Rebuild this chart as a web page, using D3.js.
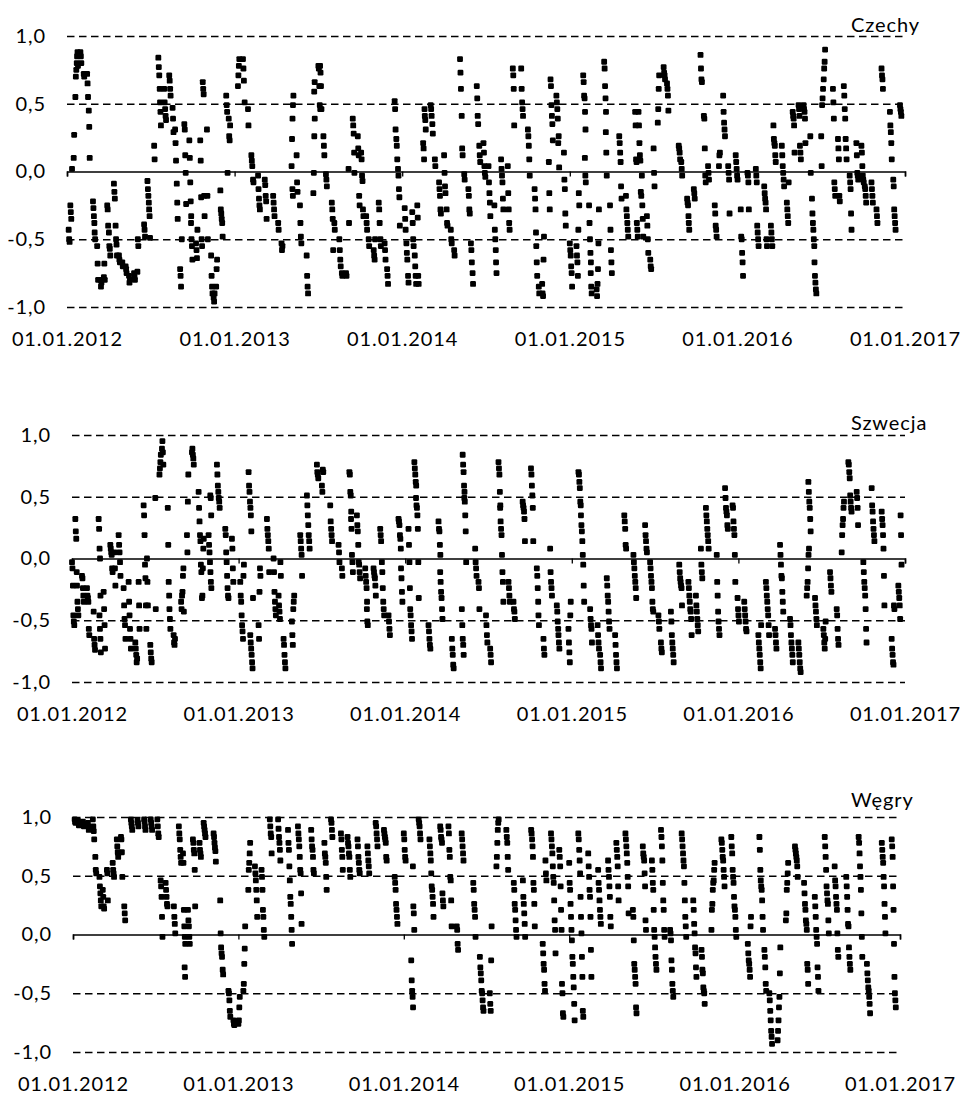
<!DOCTYPE html>
<html>
<head>
<meta charset="utf-8">
<script src="https://cdn.jsdelivr.net/npm/d3@7"></script>
<style>
  body { margin: 0; background: #fff; }
  text { font-family: Lato, "Open Sans", sans-serif; fill: #000; }
</style>
</head>
<body>
<script>
// Each group: [start (fractional year), values on consecutive days]
var czechy = [
  [2012.01, [-0.43,-0.50,-0.52]], [2012.02, [-0.25,-0.30,-0.35]], [2012.03, [0.02]],
  [2012.04, [0.10,0.27]], [2012.05, [0.55,0.70,0.75,0.80]], [2012.06, [0.85,0.88,0.78]],
  [2012.08, [0.88,0.85,0.80]], [2012.10, [0.72,0.70]], [2012.12, [0.72,0.65,0.55]],
  [2012.13, [0.45,0.33,0.10]], [2012.155, [-0.22,-0.27,-0.33,-0.38]], [2012.165, [-0.45,-0.50]],
  [2012.18, [-0.55,-0.68,-0.80]], [2012.20, [-0.80,-0.85,-0.82]], [2012.22, [-0.78,-0.68,-0.80]],
  [2012.24, [-0.25,-0.28,-0.40]], [2012.25, [-0.45,-0.55,-0.57,-0.62]], [2012.28, [-0.09,-0.15,-0.20]],
  [2012.29, [-0.40,-0.50,-0.54,-0.62]], [2012.31, [-0.62,-0.65,-0.67]], [2012.33, [-0.67,-0.70]],
  [2012.35, [-0.70,-0.72,-0.75]], [2012.37, [-0.77,-0.82,-0.80]], [2012.40, [-0.75,-0.78,-0.80]],
  [2012.42, [-0.74,-0.50,-0.55]], [2012.46, [-0.39,-0.43,-0.48]], [2012.48, [-0.07,-0.13,-0.18,-0.23]],
  [2012.49, [-0.28,-0.33,-0.49]], [2012.52, [0.19,0.09]], [2012.545, [0.84,0.77,0.71,0.61]],
  [2012.555, [0.51,0.44,0.34]], [2012.58, [0.61,0.51,0.46,0.41,0.38]], [2012.61, [0.71,0.67,0.61,0.56]],
  [2012.63, [0.47,0.39,0.29]], [2012.645, [0.31,0.21,0.08]], [2012.655, [-0.09,-0.23,-0.35]],
  [2012.675, [-0.72,-0.77,-0.85]], [2012.685, [-0.50]], [2012.70, [0.35,0.31,0.12,-0.01,-0.24]],
  [2012.73, [0.23,0.10,-0.08,-0.22,-0.33]], [2012.74, [-0.38,-0.50,-0.55,-0.65]],
  [2012.77, [-0.53,-0.58,-0.64,-0.43]], [2012.795, [0.23,0.08,-0.19,-0.50,-0.55]],
  [2012.81, [0.66,0.61,0.57,-0.18,-0.33]], [2012.835, [0.31,-0.18,-0.50]],
  [2012.86, [-0.62,-0.77,-0.85,-0.90]], [2012.875, [-0.93,-0.96,-0.90]], [2012.89, [-0.85,-0.72,-0.65]],
  [2012.915, [-0.14,-0.28,-0.31,-0.35,-0.38,-0.48]], [2012.95, [0.56,0.49,0.44,-0.01]],
  [2012.965, [0.39,0.26,0.23,0.34]], [2013.02, [0.63,0.71,0.78,0.83]], [2013.05, [0.83,0.76,0.67]],
  [2013.06, [0.51]], [2013.08, [0.46,0.34]], [2013.10, [0.12,0.08,0.04]], [2013.11, [-0.06,-0.08]],
  [2013.14, [-0.03,-0.13,-0.20,-0.25,-0.28]], [2013.18, [-0.06,-0.10,-0.18,-0.22,-0.35]],
  [2013.23, [-0.18,-0.23,-0.28,-0.33]], [2013.26, [-0.38,-0.43]], [2013.28, [-0.53,-0.58,-0.55]],
  [2013.34, [0.04,0.24,0.39,0.49,0.56]], [2013.345, [-0.13,-0.18]], [2013.37, [0.12,-0.08,-0.15]],
  [2013.39, [-0.25,-0.38,-0.48,-0.53]], [2013.43, [-0.62,-0.77,-0.85,-0.90]],
  [2013.47, [-0.16,-0.01,0.26,0.39]], [2013.475, [0.59,0.66]], [2013.50, [0.78,0.76,0.63,0.49,0.46]],
  [2013.51, [0.78,0.73,0.63,0.46]], [2013.53, [0.26,0.19,0.12]], [2013.545, [-0.02,-0.06,-0.11]],
  [2013.58, [-0.23,-0.28,-0.35,-0.58]], [2013.595, [-0.38,-0.43]], [2013.625, [-0.50,-0.58,-0.65,-0.70]],
  [2013.64, [-0.75,-0.77]], [2013.665, [-0.75,-0.77]], [2013.68, [0.02,-0.38]],
  [2013.705, [0.39,0.34,0.28,0.14]], [2013.715, [-0.01]], [2013.735, [0.26,0.17,0.12,-0.18,-0.25]],
  [2013.755, [0.14,0.09,-0.03,-0.07,-0.28,-0.33]], [2013.785, [-0.33,-0.38,-0.43]],
  [2013.80, [-0.50,-0.55]], [2013.83, [-0.58,-0.62,-0.65,-0.50]], [2013.86, [-0.23,-0.28,-0.38]],
  [2013.87, [-0.50,-0.55]], [2013.895, [-0.53,-0.58,-0.65]], [2013.91, [-0.72,-0.77,-0.83]],
  [2013.955, [0.52,0.46,0.31]], [2013.965, [0.24,0.19,0.09]], [2013.975, [0.02,-0.03,-0.13,-0.19,-0.40]],
  [2014.015, [-0.27,-0.35,-0.43]], [2014.025, [-0.53,-0.60,-0.65]], [2014.035, [-0.77,-0.82]],
  [2014.06, [-0.30,-0.38,-0.50,-0.55]], [2014.075, [-0.62,-0.70,-0.77,-0.83]],
  [2014.09, [-0.25,-0.34,-0.77,-0.83]], [2014.125, [0.21,0.17,0.09,0.46]], [2014.135, [0.41,0.38,0.31]],
  [2014.17, [0.49,0.46,0.41]], [2014.18, [0.35,0.28]], [2014.195, [0.09,0.04]],
  [2014.22, [-0.08,-0.13,-0.18,-0.28,-0.31]], [2014.25, [0.12,-0.01,-0.11,-0.16]],
  [2014.265, [-0.28,-0.38,-0.40]], [2014.29, [-0.43,-0.50,-0.53]], [2014.31, [-0.58,-0.62]],
  [2014.345, [0.83,0.73,0.61]], [2014.355, [0.41,0.17,0.12]], [2014.37, [-0.02,-0.06]],
  [2014.395, [-0.13,-0.18,-0.28,-0.31]], [2014.41, [-0.53,-0.58,-0.67]], [2014.42, [-0.75,-0.83]],
  [2014.445, [0.63,0.54,0.41,0.35]], [2014.46, [0.19,0.12,0.07]], [2014.485, [0.21,0.14,0.04,-0.01,-0.04]],
  [2014.515, [0.04,-0.08,-0.16,-0.23,-0.33]], [2014.55, [-0.25,-0.43,-0.50,-0.58]], [2014.56, [-0.67,-0.75]],
  [2014.59, [0.09,0.02,-0.03,-0.08,-0.20,-0.28]], [2014.63, [0.04,-0.16,-0.28,-0.38,-0.43]],
  [2014.66, [0.76,0.71,0.61,0.34]], [2014.71, [0.76,0.61,0.51,0.46,0.41]],
  [2014.75, [0.31,0.26,0.19,0.09,-0.03]], [2014.79, [-0.13,-0.20,-0.28,-0.45]],
  [2014.80, [-0.55,-0.67,-0.77]], [2014.815, [-0.85,-0.90]], [2014.835, [-0.83,-0.90,-0.92,-0.65,-0.48]],
  [2014.875, [0.07,-0.16,-0.28]], [2014.885, [0.68,0.63,0.49,0.41,0.35,0.23]],
  [2014.92, [0.56,0.51,0.46,0.39,0.21,0.26,0.03]], [2014.965, [0.14,-0.06,-0.13,-0.31,-0.40]],
  [2015.0, [-0.53,-0.58,-0.62,-0.70,-0.75,-0.85]], [2015.04, [-0.55,-0.62,-0.67,-0.77,-0.43,-0.16,-0.25]],
  [2015.08, [0.71,0.66,0.56,0.54,0.44,0.31]], [2015.09, [0.10,-0.03,-0.08]],
  [2015.115, [-0.25,-0.38,-0.50,-0.60,-0.67]], [2015.125, [-0.75,-0.85,-0.90]],
  [2015.16, [-0.87,-0.92,-0.83,-0.72,-0.53,-0.28]], [2015.205, [0.81,0.76,0.63,0.54,0.44]],
  [2015.215, [0.29,0.14,-0.03]], [2015.24, [-0.25,-0.43,-0.58,-0.67,-0.75]],
  [2015.295, [0.26,0.21,0.14,0.07,-0.11,-0.20]], [2015.335, [-0.18,-0.28,-0.33,-0.38,-0.43,-0.48]],
  [2015.39, [0.44,0.34,0.09,0.07]], [2015.40, [-0.38,-0.43,-0.48]],
  [2015.41, [0.44,0.34,0.21,0.12,0.08,-0.15,-0.18]], [2015.43, [-0.03,-0.25,-0.35,-0.48]],
  [2015.46, [-0.33,-0.40,-0.50,-0.60]], [2015.48, [-0.65,-0.70,-0.72]], [2015.50, [0.17,-0.01,-0.11]],
  [2015.525, [0.36,0.46,0.61,0.71]], [2015.56, [0.77,0.73,0.71,0.68]], [2015.58, [0.65,0.61,0.56,0.45]],
  [2015.65, [0.19,0.17,0.14,0.09]], [2015.665, [0.07,0.02,-0.03]], [2015.70, [-0.20,-0.23,-0.25,-0.33]],
  [2015.71, [-0.38,-0.43]], [2015.74, [-0.13,-0.16,-0.20]], [2015.78, [0.86,0.76,0.68,0.66]],
  [2015.80, [0.41,0.39,0.17,-0.03,-0.08]], [2015.825, [0.04,-0.01,-0.06]],
  [2015.865, [-0.25,-0.31,-0.40,-0.43,-0.48]], [2015.89, [0.04,0.12,0.14]],
  [2015.915, [0.56,0.44,0.36,0.31,0.26]], [2015.945, [0.04,-0.01,-0.06,-0.31]],
  [2015.99, [0.12,0.07,0.02,-0.03,-0.06]], [2016.02, [-0.28,-0.48,-0.50,-0.60,-0.67,-0.77]],
  [2016.06, [-0.01,-0.03,-0.08,-0.28]], [2016.11, [0.02,-0.03,-0.08,-0.40,-0.45,-0.50,-0.55]],
  [2016.16, [-0.11,-0.16,-0.20,-0.23,-0.28,-0.50,-0.55]], [2016.20, [-0.40,-0.45,-0.50,-0.55]],
  [2016.215, [0.34,0.24,0.21,0.19,0.12,0.07]], [2016.265, [0.19,0.12,0.04,-0.01,-0.06,-0.11]],
  [2016.295, [-0.23,-0.28,-0.33,-0.38,-0.08]], [2016.33, [0.44,0.41,0.39,0.34,0.14]],
  [2016.365, [0.49,0.46,0.41,0.19,0.14,0.09]], [2016.395, [0.49,0.46,0.44,0.39,0.21]],
  [2016.435, [0.26,-0.01]], [2016.445, [-0.20,-0.31,-0.38,-0.43,-0.50,-0.55]],
  [2016.46, [-0.67,-0.77,-0.82,-0.87,-0.90]], [2016.50, [0.26,0.04,0.49,0.54,0.61]],
  [2016.515, [0.68,0.76,0.81,0.90]], [2016.57, [0.61,0.51,0.39,-0.08,-0.13,-0.18]],
  [2016.60, [0.24,0.17,0.09,-0.18,-0.22]], [2016.635, [0.63,0.56,0.46,0.39,0.24,0.17,0.09]],
  [2016.67, [-0.03,-0.08,-0.13,-0.31,-0.43]], [2016.71, [0.21,0.12,-0.01,-0.03,-0.06]],
  [2016.74, [0.19,0.14,0.04,-0.03,-0.06,-0.08]], [2016.76, [-0.11,-0.13,-0.18,-0.23]],
  [2016.80, [-0.08,-0.13,-0.18,-0.23]], [2016.83, [-0.28,-0.33,-0.38]],
  [2016.86, [0.76,0.71,0.68,0.61]], [2016.91, [0.44,0.34,0.29,0.21,0.09]],
  [2016.93, [-0.06,-0.11,-0.28,-0.33,-0.38,-0.43]], [2016.97, [0.49,0.46,0.44,0.41]]
];

var szwecja = [
  [2012.00, [-0.03,-0.08,-0.22,-0.46,-0.51,-0.54]], [2012.02, [0.32,0.22,0.16,-0.11]],
  [2012.03, [-0.22,-0.35,-0.41,-0.46]], [2012.06, [-0.14,-0.16,-0.24,-0.30,-0.35]],
  [2012.09, [-0.24,-0.30,-0.32,-0.35,-0.57,-0.62]], [2012.13, [-0.43,-0.65,-0.70,-0.74]],
  [2012.16, [0.32,0.24,0.08,0.0,-0.30]], [2012.165, [-0.46,-0.57,-0.65,-0.76]],
  [2012.19, [-0.27,-0.41,-0.54,-0.73]], [2012.23, [0.11,0.08,0.05,0.03,-0.08,-0.11]],
  [2012.255, [0.05,-0.08,-0.22]], [2012.28, [0.19,0.11,0.05,-0.03,-0.14]],
  [2012.31, [-0.24,-0.38,-0.49,-0.54,-0.65]], [2012.34, [-0.19,-0.35,-0.46,-0.57,-0.65,-0.73]],
  [2012.38, [-0.68,-0.73,-0.78,-0.84,-0.81]], [2012.40, [-0.19,-0.38,-0.57]],
  [2012.43, [0.43,0.35,0.19,-0.05,-0.16,-0.38,-0.57]], [2012.45, [0.0,-0.19,-0.38]],
  [2012.47, [-0.70,-0.76,-0.81,-0.84]], [2012.50, [0.49,-0.41]], [2012.525, [0.68,0.73,0.78,0.84]],
  [2012.54, [0.89,0.95,0.86,0.76]], [2012.575, [0.41,0.11,-0.19,-0.30]], [2012.585, [-0.41,-0.49,-0.57]],
  [2012.61, [-0.62,-0.68,-0.70,-0.65]], [2012.655, [-0.35,-0.41,-0.30,-0.27,-0.14,-0.08,-0.43]],
  [2012.69, [0.19,0.05,0.46,0.68]], [2012.72, [0.86,0.89,0.84,0.81,0.76]],
  [2012.76, [0.54,0.41,0.30,0.19,0.14,-0.05,-0.11]], [2012.78, [-0.32,-0.30,-0.08,0.08,0.16]],
  [2012.82, [0.19,0.11,0.05,-0.03,-0.11,-0.19,-0.24]], [2012.83, [0.51,0.49,0.35]],
  [2012.87, [0.76,0.68,0.59,0.54,0.49,0.46,0.41]], [2012.92, [0.24,0.19,0.05,-0.03,-0.14,-0.24,-0.30,-0.32]],
  [2012.96, [0.16,0.08,-0.08,-0.19]], [2013.01, [-0.19,-0.30,-0.35,-0.46,-0.54,-0.59,-0.65,-0.14,-0.05]],
  [2013.06, [0.70,0.59,0.54,0.46,0.41,0.35,0.22]], [2013.07, [-0.62,-0.68,-0.73,-0.78,-0.84,-0.89,-0.32]],
  [2013.12, [-0.54,-0.65,-0.27,-0.08,-0.14]], [2013.17, [0.32,0.24,0.19,0.14,0.08,-0.11]],
  [2013.21, [0.0,-0.11,-0.27,-0.35,-0.41,-0.46]], [2013.24, [-0.30,-0.38,-0.43,-0.49,-0.03,-0.14]],
  [2013.27, [-0.65,-0.70,-0.78,-0.84,-0.89]], [2013.32, [-0.51,-0.62,-0.70,-0.41,-0.35,-0.30]],
  [2013.37, [0.19,0.14,0.08,0.03,-0.14]], [2013.41, [0.51,0.43,0.35,0.27,0.19,0.14,0.08]],
  [2013.47, [0.76,0.70,0.68,0.65]], [2013.50, [0.59,0.54,0.72,0.70]], [2013.55, [0.43,0.30,0.24,0.19,0.14]],
  [2013.60, [0.11,0.05,-0.03]], [2013.62, [-0.08,-0.14]], [2013.665, [0.70,0.68,0.54,0.51,0.38]],
  [2013.675, [0.32,0.24,0.03,-0.03,-0.11]], [2013.71, [0.35,0.27,0.22,0.11,-0.03,-0.05,-0.11,-0.16]],
  [2013.76, [-0.08,-0.14,-0.19,-0.24,-0.35]], [2013.77, [-0.41,-0.51,-0.54]],
  [2013.81, [-0.08,-0.11,-0.14,-0.16,-0.22,-0.30]], [2013.85, [0.24,0.19,0.14]],
  [2013.86, [-0.03,-0.11,-0.24,-0.35,-0.41,-0.46]], [2013.90, [-0.46,-0.51,-0.57,-0.62]],
  [2013.96, [0.32,0.30,0.27,0.19,0.16,0.08]], [2013.975, [-0.08,-0.16,-0.27,-0.35]],
  [2014.02, [0.24,0.11,-0.03,-0.24]], [2014.03, [-0.41,-0.46,-0.54,-0.59,-0.65]],
  [2014.055, [0.78,0.73,0.68,0.62,0.59]], [2014.065, [0.49,0.43,0.41,0.35,0.24,-0.03,-0.32]],
  [2014.14, [-0.54,-0.59,-0.65,-0.70,-0.73]], [2014.20, [0.30,0.24,0.22,0.11,0.03]],
  [2014.21, [-0.11,-0.19,-0.27,-0.32,-0.41,-0.49]], [2014.28, [-0.65,-0.73,-0.78,-0.86,-0.89]],
  [2014.34, [-0.41,-0.54,-0.65,-0.70,-0.78]], [2014.345, [0.84,0.76,0.70,0.59,0.54]],
  [2014.355, [0.49,0.46,0.35,0.22,-0.03]], [2014.42, [0.08,-0.03,-0.08,-0.14]],
  [2014.44, [-0.19,-0.24,-0.41]], [2014.485, [-0.46,-0.54,-0.62,-0.68]], [2014.51, [-0.73,-0.78,-0.84]],
  [2014.56, [0.78,0.73,0.68,0.54,0.43]], [2014.57, [0.41,0.30,0.24,0.19,0.03,-0.11,-0.19,-0.35]],
  [2014.62, [-0.19,-0.24,-0.30,-0.35]], [2014.65, [-0.35,-0.41,-0.43,-0.49]],
  [2014.705, [0.46,0.43,0.41,0.38,0.32,0.14]], [2014.755, [0.73,0.68,0.59,0.51,0.41,0.14]],
  [2014.79, [-0.08,-0.14,-0.24,-0.35]], [2014.80, [-0.46,-0.54]], [2014.83, [-0.65,-0.73,-0.78]],
  [2014.87, [0.08,-0.11,-0.19,-0.24,-0.30]], [2014.91, [-0.38,-0.43,-0.51,-0.57]],
  [2014.92, [-0.62,-0.68,-0.73]], [2014.98, [-0.57,-0.68,-0.76,-0.84,-0.46,-0.35]],
  [2015.04, [0.70,0.68,0.62,0.57,0.46,0.43]], [2015.055, [0.35,0.27,0.22,0.14,0.03,-0.05,-0.22,-0.35]],
  [2015.11, [-0.41,-0.49,-0.54,-0.57,-0.68]], [2015.155, [-0.54,-0.62,-0.68,-0.73]],
  [2015.17, [-0.78,-0.84,-0.89]], [2015.21, [-0.16,-0.22,-0.30,-0.35,-0.43,-0.51,-0.57]],
  [2015.26, [-0.62,-0.70,-0.78,-0.84,-0.89]], [2015.315, [0.35,0.30,0.24,0.11,0.08]],
  [2015.37, [0.03,-0.03,-0.08,-0.14,-0.19,-0.24,-0.32]], [2015.44, [0.27,0.19,0.14,0.08,0.05]],
  [2015.47, [-0.03,-0.08,-0.14,-0.19,-0.24,-0.35,-0.41,-0.43]], [2015.52, [-0.46,-0.51,-0.57]],
  [2015.535, [-0.68,-0.73,-0.76]], [2015.595, [-0.43,-0.51,-0.62,-0.68,-0.73,-0.78,-0.84]],
  [2015.645, [-0.05,-0.11,-0.16,-0.19,-0.22,-0.24,-0.38]],
  [2015.70, [-0.19,-0.24,-0.30,-0.35,-0.41,-0.43,-0.49,-0.62]],
  [2015.745, [-0.30,-0.38,-0.43,-0.49,-0.54,-0.59]], [2015.775, [0.08,-0.05,-0.11,-0.16]],
  [2015.805, [0.41,0.35,0.30,0.24,0.19,0.14,0.08]], [2015.87, [0.03,-0.19,-0.30,-0.43,-0.51,-0.57,-0.62]],
  [2015.92, [0.57,0.49,0.41,0.38,0.35,0.27,0.24]], [2015.965, [0.43,0.41,0.30,0.24,0.19,0.03,-0.19]],
  [2015.995, [-0.32,-0.41,-0.46,-0.51]], [2016.035, [-0.35,-0.41,-0.46,-0.51,-0.57,-0.59]],
  [2016.12, [-0.62,-0.68,-0.73,-0.78,-0.84,-0.89,-0.54]],
  [2016.165, [-0.19,-0.24,-0.30,-0.35,-0.41,-0.46,-0.54,-0.62]], [2016.22, [-0.57,-0.62,-0.68,-0.73]],
  [2016.25, [0.11,0.03,-0.05,-0.14,-0.16,-0.27,-0.35,-0.43]],
  [2016.31, [-0.49,-0.54,-0.62,-0.68,-0.73,-0.78,-0.84]], [2016.36, [-0.68,-0.73,-0.78,-0.84,-0.89,-0.92]],
  [2016.41, [-0.30,-0.24,-0.19,-0.08,0.03,0.08]], [2016.42, [0.62,0.54,0.46,0.41,0.32,0.22]],
  [2016.46, [-0.32,-0.38,-0.43,-0.49,-0.54]], [2016.51, [-0.57,-0.62,-0.68,-0.73,-0.65,-0.51]],
  [2016.55, [-0.11,-0.16,-0.22,-0.27]], [2016.59, [-0.41,-0.46,-0.57,-0.65,-0.70]],
  [2016.62, [0.05,0.19,0.27,0.32,0.41,0.46]], [2016.66, [0.78,0.76,0.70,0.65,0.51,0.46,0.41,0.38]],
  [2016.71, [0.54,0.49,0.41,0.27]], [2016.75, [-0.03,-0.11,-0.19,-0.24,-0.30,-0.41,-0.57,-0.68]],
  [2016.80, [0.57,0.43,0.38,0.30,0.24,0.19,0.14]], [2016.86, [0.38,0.32,0.27,0.19,0.08,-0.14,-0.38]],
  [2016.92, [-0.65,-0.73,-0.78,-0.84,-0.86,-0.38,-0.41]], [2016.96, [-0.22,-0.27,-0.32,-0.38,-0.49,0.35,0.19,-0.05]]
];

var wegry = [
  [2012.01, [0.98,0.96,0.95]], [2012.03, [0.97,0.95,0.93]], [2012.06, [0.96,0.93,0.92]],
  [2012.09, [0.95,0.92,0.89]], [2012.12, [0.98,0.92,0.88,0.81]], [2012.135, [0.66,0.55,0.52]],
  [2012.16, [0.49,0.41,0.35,0.29,0.24]], [2012.18, [0.38,0.32,0.24,0.22]], [2012.205, [0.55,0.52,0.29]],
  [2012.24, [0.61,0.55,0.52,0.49]], [2012.265, [0.81,0.75,0.70,0.66]], [2012.29, [0.83,0.81,0.70,0.49]],
  [2012.31, [0.24,0.18,0.12]], [2012.35, [0.98,0.95,0.92,0.89]], [2012.39, [0.97,0.95,0.92]],
  [2012.43, [0.98,0.96,0.92,0.89]], [2012.47, [0.98,0.95,0.92,0.89]], [2012.51, [0.98,0.92,0.86,0.83]],
  [2012.53, [0.46,0.41,0.32,0.15,-0.02]], [2012.56, [0.44,0.38,0.32,0.26,0.24]],
  [2012.61, [0.24,0.15,0.09,0.01]], [2012.64, [0.92,0.86,0.81,0.72,0.66,0.61]],
  [2012.665, [0.69,0.61,0.21,0.07,-0.02,-0.08]], [2012.675, [-0.28,-0.36]],
  [2012.695, [0.21,0.12,0.07,-0.02,-0.08]], [2012.725, [0.81,0.78,0.72,0.69,0.55,0.24]],
  [2012.765, [0.78,0.72,0.69,0.66]], [2012.79, [0.95,0.92,0.89,0.86,0.83]],
  [2012.85, [0.86,0.83,0.78,0.74,0.71,0.62]], [2012.89, [0.29,0.01,-0.11,-0.16,-0.19]],
  [2012.905, [-0.30,-0.34]], [2012.94, [-0.48,-0.50,-0.56,-0.65,-0.70]],
  [2012.97, [-0.73,-0.76,-0.77,-0.75]], [2013.0, [-0.76,-0.73,-0.62,-0.53]],
  [2013.03, [-0.48,-0.42,-0.25,-0.12,0.07]], [2013.06, [0.38,0.55,0.61,0.69,0.78]],
  [2013.10, [0.58,0.52,0.46,0.38,0.29,0.15]], [2013.14, [0.55,0.49,0.38,0.21,0.15,0.04,-0.02]],
  [2013.19, [0.98,0.92,0.86,0.83,0.69]], [2013.24, [0.98,0.90,0.83,0.78,0.72,0.63]],
  [2013.30, [0.89,0.78,0.72,0.58,0.46,0.32,0.26,0.15,0.04,-0.08]],
  [2013.36, [0.92,0.86,0.81,0.75,0.66,0.55,0.52,0.35,0.09]], [2013.44, [0.89,0.81,0.75,0.72,0.66,0.55,0.52]],
  [2013.52, [0.78,0.69,0.66,0.61,0.49,0.38]], [2013.56, [0.98,0.95,0.89,0.83]],
  [2013.62, [0.86,0.81,0.72,0.66,0.55]], [2013.66, [0.83,0.78,0.75,0.69,0.66,0.55,0.49]],
  [2013.72, [0.81,0.75,0.66,0.61,0.55,0.52]], [2013.78, [0.75,0.69,0.63,0.58,0.52]],
  [2013.83, [0.95,0.92,0.86,0.81,0.75]], [2013.88, [0.89,0.86,0.83,0.81,0.78,0.66,0.63]],
  [2013.945, [0.49,0.44,0.38,0.26,0.21,0.15,0.09]], [2014.0, [0.86,0.81,0.72,0.66,0.63]],
  [2014.045, [-0.22,-0.39,-0.48,-0.53,-0.62]], [2014.055, [0.58,0.24,0.18,0.04]],
  [2014.09, [0.98,0.95,0.92,0.86,0.81]], [2014.155, [0.81,0.75,0.69,0.63,0.52,0.41,0.38,0.32,0.26,0.15]],
  [2014.22, [0.92,0.89,0.83,0.81,0.78,0.35,0.29,0.24]], [2014.27, [0.92,0.86,0.72,0.66,0.49,0.46,0.29,0.07]],
  [2014.32, [0.07,0.04,-0.08,-0.13]], [2014.35, [0.86,0.81,0.75,0.69,0.63]],
  [2014.42, [0.44,0.38,0.26,0.21,0.15,-0.02]], [2014.46, [-0.19,-0.28,-0.33,-0.39,-0.48,-0.50,-0.56,-0.62,-0.65]],
  [2014.52, [-0.50,-0.59,-0.65,-0.22,0.07]], [2014.56, [0.58,0.66,0.78,0.89,0.95,0.98]],
  [2014.62, [0.89,0.83,0.78,0.66,0.55]], [2014.665, [0.44,0.38,0.26,0.21,0.12,0.04,-0.02]],
  [2014.72, [0.46,0.32,0.26,0.18,0.09,-0.02]], [2014.77, [0.89,0.86,0.81,0.75,0.66,0.44,0.38,0.26,0.07]],
  [2014.84, [-0.08,-0.16,-0.25,-0.30,-0.42,-0.48,0.63,0.52,0.46]],
  [2014.89, [0.86,0.81,0.75,0.69,0.58,0.49,0.44,0.29,0.12,0.04,-0.16]],
  [2014.94, [0.72,0.66,0.58,0.41,0.21,0.04,-0.42,-0.50,-0.67,-0.70]],
  [2015.0, [0.61,0.44,0.38,0.26,0.15,0.04,-0.05,-0.19,-0.25,-0.36,-0.45,-0.59,-0.73]],
  [2015.055, [0.86,0.81,0.72,0.63,0.52,0.32,0.15,0.01,-0.19,-0.36,-0.65,-0.70]],
  [2015.115, [0.69,0.58,0.49,0.38,0.32,0.15,-0.13,-0.36]], [2015.175, [0.55,0.44,0.38,0.29,0.21,0.15,0.09]],
  [2015.235, [0.63,0.55,0.49,0.41,0.32,0.15,0.07]], [2015.285, [0.78,0.72,0.66,0.58,0.41,0.29]],
  [2015.34, [0.86,0.81,0.75,0.69,0.61,0.49,0.41,0.18]],
  [2015.385, [0.21,0.15,-0.05,-0.25,-0.30,-0.36,-0.42,-0.62,-0.67]],
  [2015.445, [0.75,0.69,0.66,0.63,0.52,0.41,0.12,0.04]],
  [2015.50, [0.63,0.55,0.44,0.38,0.21,0.04,-0.02,-0.11,-0.19,-0.25,-0.30]],
  [2015.555, [0.89,0.83,0.75,0.63,0.44,0.29,0.21,0.04,-0.02]],
  [2015.61, [0.04,0.01,-0.05,-0.22,-0.30,-0.42,-0.48,-0.53]],
  [2015.68, [0.86,0.81,0.75,0.69,0.63,0.58,0.44,0.29,0.15,0.07,-0.02]],
  [2015.75, [0.29,0.21,0.09,0.01,-0.11,-0.16,-0.28,-0.36]],
  [2015.80, [-0.13,-0.19,-0.30,-0.33,-0.45,-0.48,-0.50,-0.59]],
  [2015.86, [0.04,0.21,0.26,0.38,0.44,0.46,0.55,0.61]], [2015.92, [0.81,0.78,0.72,0.66,0.63,0.55,0.49,0.41]],
  [2015.98, [0.83,0.75,0.69,0.55,0.49,0.44,0.32,0.24,0.21,0.15,0.04,-0.02]],
  [2016.08, [-0.08,-0.16,-0.22,-0.25,-0.30,-0.36,0.07,0.15]],
  [2016.15, [0.83,0.72,0.55,0.46,0.41,0.38,0.29,0.15,0.04]], [2016.18, [-0.13,-0.19,-0.28,-0.42,-0.48]],
  [2016.21, [-0.50,-0.56,-0.65,-0.73,-0.82,-0.87,-0.93]], [2016.26, [-0.90,-0.82,-0.73,-0.62,-0.53,-0.33,-0.11]],
  [2016.31, [0.12,0.18,0.38,0.44,0.52,0.61]], [2016.365, [0.75,0.72,0.69,0.66,0.63,0.58,0.49]],
  [2016.42, [0.44,0.35,0.26,0.21,0.12,0.09,0.04,-0.25,-0.30,-0.42]],
  [2016.485, [0.32,0.24,0.15,0.04,-0.02,-0.08,-0.28,-0.36,-0.48]],
  [2016.545, [0.83,0.75,0.66,0.55,0.41,0.35,0.29,0.26,0.12,0.01]],
  [2016.605, [0.58,0.46,0.41,0.32,0.26,0.21,0.01,-0.13,-0.19]],
  [2016.675, [0.49,0.41,0.32,0.21,0.09,0.07,-0.11,-0.19,-0.25,-0.30]],
  [2016.75, [0.83,0.78,0.69,0.58,0.49,0.38,0.18,-0.02,-0.19]],
  [2016.80, [-0.25,-0.33,-0.39,-0.45,-0.48,-0.53,-0.59,-0.67]],
  [2016.89, [0.78,0.72,0.66,0.61,0.49,0.41,0.26,0.15,0.01]],
  [2016.95, [0.81,0.75,0.66,0.41,0.21,-0.08,-0.36,-0.50,-0.56,-0.62]]
];

var titles = ["Czechy", "Szwecja", "Węgry"];
var years = [2012, 2013, 2014, 2015, 2016, 2017];
var yTicks = [-1, -0.5, 0, 0.5, 1];
var gridTicks = [-1, -0.5, 0.5, 1];

function draw() {
  var svg = d3.select("body").append("svg")
    .attr("width", 963)
    .attr("height", 1094);

  // panel boxes in pixels
  var panels = [
    {data: czechy,  title: titles[0], left: 67, right: 905, top: 36,  bottom: 307,  titleY: 32},
    {data: szwecja, title: titles[1], left: 72, right: 905, top: 435, bottom: 682,  titleY: 430},
    {data: wegry,   title: titles[2], left: 73, right: 900, top: 817, bottom: 1052, titleY: 807}
  ];

  // one day, in years
  var step = 1 / 365;

  panels.forEach(function(p) {
    var x = d3.scaleLinear().domain([2012, 2017]).range([p.left, p.right]);
    var y = d3.scaleLinear().domain([-1, 1]).range([p.bottom, p.top]);
    var g = svg.append("g");

    // dashed grid lines
    g.append("g")
      .attr("transform", "translate(" + p.left + ",0)")
      .call(d3.axisLeft(y).tickValues(gridTicks).tickSize(-(p.right - p.left)).tickFormat(""))
      .call(function(a) { a.select(".domain").remove(); })
      .selectAll("line")
      .attr("stroke", "#000")
      .attr("stroke-width", 1.5)
      .attr("stroke-dasharray", "7.5,4.5");

    // y labels
    g.append("g")
      .attr("transform", "translate(" + p.left + ",0)")
      .call(d3.axisLeft(y).tickValues(yTicks).tickSize(0).tickPadding(21)
        .tickFormat(function(d) { return d.toFixed(1).replace(".", ","); }))
      .call(function(a) { a.select(".domain").remove(); })
      .selectAll("text")
      .attr("font-family", "Lato, 'Open Sans', sans-serif")
      .attr("font-size", 20)
      .attr("letter-spacing", 0.9)
      .attr("fill", "#000");

    // zero line with year ticks
    g.append("g")
      .attr("transform", "translate(0," + y(0) + ")")
      .call(d3.axisBottom(x).tickValues(years).tickSize(5).tickSizeOuter(5).tickFormat(""))
      .call(function(a) {
        a.select(".domain").attr("stroke", "#000").attr("stroke-width", 1.6);
        a.selectAll("line").attr("stroke", "#000").attr("stroke-width", 1.3);
      });

    // x labels
    g.append("g")
      .attr("transform", "translate(0," + p.bottom + ")")
      .call(d3.axisBottom(x).tickValues(years).tickSize(0)
        .tickFormat(function(d) { return "01.01." + d; }))
      .call(function(a) { a.select(".domain").remove(); })
      .selectAll("text")
      .attr("y", 39)
      .attr("dy", 0)
      .attr("font-family", "Lato, 'Open Sans', sans-serif")
      .attr("font-size", 20)
      .attr("letter-spacing", 0.9)
      .attr("fill", "#000");

    // points
    var pts = [];
    p.data.forEach(function(grp) {
      grp[1].forEach(function(v, i) { pts.push({t: grp[0] + i * step, v: v}); });
    });

    g.selectAll("rect.pt")
      .data(pts)
      .join("rect")
      .attr("class", "pt")
      .attr("x", function(d) { return x(d.t) - 2.9; })
      .attr("y", function(d) { return y(d.v) - 2.9; })
      .attr("width", 5.8)
      .attr("height", 5.8)
      .attr("rx", 1.2)
      .attr("fill", "#000");

    // title
    g.append("text")
      .attr("x", 851)
      .attr("y", p.titleY)
      .attr("font-size", 20)
      .attr("letter-spacing", 0.9)
      .text(p.title);
  });
}

window.onload = draw;
</script>
</body>
</html>
